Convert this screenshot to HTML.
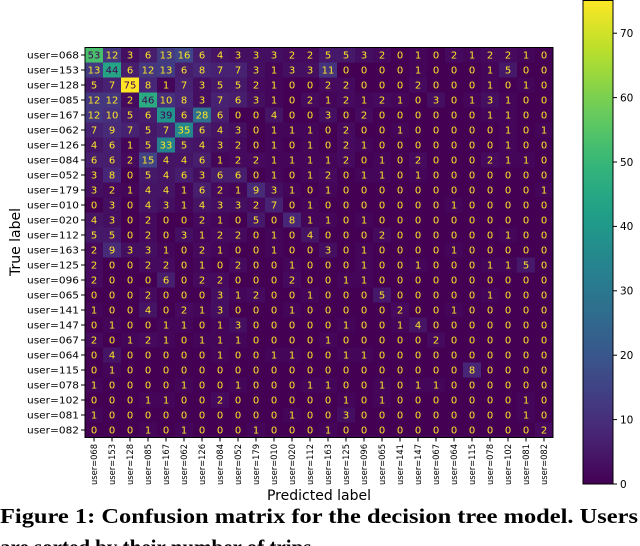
<!DOCTYPE html>
<html><head><meta charset="utf-8"><style>
html,body{margin:0;padding:0;background:#fff;width:640px;height:546px;overflow:hidden}
svg{display:block}
</style></head><body>
<svg id="chart" width="640" height="546" viewBox="0 0 640 546" xmlns="http://www.w3.org/2000/svg" font-family="'DejaVu Sans', 'Liberation Sans', sans-serif">
<g id="cells"></g>
<g id="ylabels"></g>
<g id="xlabels"></g>
<rect x="85" y="47.5" width="468" height="390" fill="none" stroke="#000" stroke-width="1"/>
<text transform="translate(20,242) rotate(-90)" text-anchor="middle" font-size="14">True label</text>
<text x="319" y="500" text-anchor="middle" font-size="14">Predicted label</text>
<defs><linearGradient id="vg" x1="0" y1="1" x2="0" y2="0"></linearGradient></defs>
<rect x="583" y="0.5" width="30" height="483.5" fill="url(#vg)" stroke="#000" stroke-width="1"/>
<g id="cbticks"></g>
<text x="0" y="523" font-family="'Liberation Serif', serif" font-weight="bold" font-size="21" textLength="638" lengthAdjust="spacingAndGlyphs">Figure 1: Confusion matrix for the decision tree model. Users</text>
<text x="0" y="554" font-family="'Liberation Serif', serif" font-weight="bold" font-size="21">are sorted by their number of trips.</text>
</svg>
<script>
const labels = ["068","153","128","085","167","062","126","084","052","179","010","020","112","163","125","096","065","141","147","067","064","115","078","102","081","082"];
const cbTicks = [0,10,20,30,40,50,60,70];
const vmax = 75;
const m068 = [53,12,3,6,13,16,6,4,3,3,3,2,2,5,5,3,2,0,1,0,2,1,2,2,1,0];
const m153 = [13,44,6,12,13,6,8,7,7,3,1,3,3,11,0,0,0,0,1,0,0,0,1,5,0,0];
const m128 = [5,7,75,8,1,7,3,5,5,2,1,0,0,2,2,0,0,0,2,0,0,0,1,0,1,0];
const m085 = [12,12,2,46,10,8,3,7,6,3,1,0,2,1,2,1,2,1,0,3,0,1,3,1,0,0];
const m167 = [12,10,5,6,39,6,28,6,0,0,4,0,0,3,0,2,0,0,0,0,0,0,1,1,0,0];
const m062 = [7,9,7,5,7,35,6,4,3,0,1,1,1,0,2,0,0,1,0,0,0,0,0,1,0,1];
const m126 = [4,6,1,5,33,5,4,3,2,0,1,0,1,0,2,1,0,0,0,0,0,0,0,1,0,0];
const m084 = [6,6,2,15,4,4,6,1,2,2,1,1,1,1,2,0,1,0,2,0,0,0,2,1,1,0];
const m052 = [3,8,0,5,4,6,3,6,6,0,1,0,1,2,0,1,1,0,1,0,0,0,0,0,0,0];
const m179 = [3,2,1,4,4,1,6,2,1,9,3,1,0,1,0,0,0,0,0,0,0,0,0,0,0,1];
const m010 = [0,3,0,4,3,1,4,3,3,2,7,0,1,0,0,0,0,0,0,0,1,0,0,0,0,0];
const m020 = [4,3,0,2,0,0,2,1,0,5,0,8,1,1,0,1,0,0,0,0,0,0,0,0,0,0];
const m112 = [5,5,0,2,0,3,1,2,2,0,1,0,4,0,0,0,2,0,0,0,0,0,0,1,0,0];
const m163 = [2,9,3,3,1,0,2,1,0,0,1,0,0,3,0,1,0,0,0,0,1,0,0,0,0,0];
const m125 = [2,0,0,2,2,0,1,0,2,0,0,1,0,0,0,1,0,0,1,0,0,0,1,1,5,0];
const m096 = [2,0,0,0,6,0,2,2,0,0,0,2,0,0,1,1,0,0,0,0,0,0,0,0,0,0];
const m065 = [0,0,0,2,0,0,0,3,1,2,0,0,1,0,0,0,5,0,0,0,0,0,1,0,0,0];
const m141 = [1,0,0,4,0,2,1,3,0,0,0,1,0,0,0,0,0,2,0,0,1,0,0,0,0,0];
const m147 = [0,1,0,0,1,1,0,1,3,0,0,0,0,0,1,0,0,1,4,0,0,0,0,0,0,0];
const m067 = [2,0,1,2,1,0,1,1,1,0,0,0,0,1,0,0,0,0,0,2,0,0,0,0,0,0];
const m064 = [0,4,0,0,0,0,0,1,0,0,1,1,0,0,1,1,0,0,0,0,0,0,0,0,0,0];
const m115 = [0,1,0,0,0,0,0,0,0,0,0,0,0,0,0,0,0,0,0,0,0,8,0,0,0,0];
const m078 = [1,0,0,0,0,1,0,0,1,0,0,0,1,1,0,0,1,0,1,1,0,0,0,0,0,0];
const m102 = [0,0,0,1,1,0,0,2,0,0,0,0,0,0,1,0,1,0,0,0,0,0,0,0,1,0];
const m081 = [1,0,0,0,0,0,0,0,0,0,0,1,0,0,3,0,0,0,0,0,0,0,0,0,1,0];
const m082 = [0,0,0,1,0,1,0,0,0,1,0,0,0,1,0,0,0,0,0,0,0,0,0,0,0,2];
const matrix = [m068,m153,m128,m085,m167,m062,m126,m084,m052,m179,m010,m020,m112,m163,m125,m096,m065,m141,m147,m067,m064,m115,m078,m102,m081,m082];

const NS = "http://www.w3.org/2000/svg";
const X0 = 85, Y0 = 47.5, CW = 18, CH = 15;
const xPos = i => X0 + i * CW;
const yPos = i => Y0 + i * CH;
const cbY = v => 484 - v * (483 / vmax);
const VS = [[68,1,84],[72,40,120],[62,74,137],[49,104,142],[38,130,142],[31,158,137],[53,183,121],[109,205,89],[180,222,44],[253,231,37]];
function viridis(t){
  t = Math.max(0, Math.min(1, t));
  const p = t * (VS.length - 1), i = Math.min(Math.floor(p), VS.length - 2), f = p - i;
  const c = VS[i].map((a, k) => Math.round(a + (VS[i + 1][k] - a) * f));
  return `rgb(${c[0]},${c[1]},${c[2]})`;
}
function mk(tag, attrs){ const e = document.createElementNS(NS, tag); for (const k in attrs) e.setAttribute(k, attrs[k]); return e; }

const cells = document.getElementById('cells');
matrix.forEach((row, r) => {
  row.forEach((v, c) => {
    const rect = mk('rect', {x: xPos(c), y: yPos(r), width: CW + 0.3, height: CH + 0.3, fill: viridis(v / vmax)});
    
    
    cells.appendChild(rect);
    const t = mk('text', {x: xPos(c) + CW / 2, y: yPos(r) + CH / 2 + 3.6, 'text-anchor': 'middle', 'font-size': 10, fill: v > vmax / 2 ? '#440154' : '#fde725'});
    t.textContent = v;
    
    
    cells.appendChild(t);
  });
});
const yl = document.getElementById('ylabels');
labels.forEach((l, i) => {
  const y = yPos(i) + CH / 2;
  const tk = mk('line', {x1: 81, x2: 85, y1: y, y2: y, stroke: '#000'});
  
  
  yl.appendChild(tk);
  const t = mk('text', {x: 79, y: y + 3.6, 'text-anchor': 'end', 'font-size': 10, textLength: 52, lengthAdjust: 'spacingAndGlyphs'});
  t.textContent = 'user=' + l;
  
  
  yl.appendChild(t);
});
const xl = document.getElementById('xlabels');
labels.forEach((l, i) => {
  const x = xPos(i) + CW / 2;
  const tk = mk('line', {x1: x, x2: x, y1: 437.5, y2: 441.5, stroke: '#000'});
  
  
  xl.appendChild(tk);
  const t = mk('text', {transform: `translate(${x + 3.2},444) rotate(-90)`, 'text-anchor': 'end', 'font-size': 9, textLength: 41, lengthAdjust: 'spacingAndGlyphs'});
  t.textContent = 'user=' + l;
  
  
  xl.appendChild(t);
});
const g = document.getElementById('vg');
for (let i = 0; i <= 20; i++) {
  const s = mk('stop', {offset: (i / 20), 'stop-color': viridis(i / 20)});
  g.appendChild(s);
}
const cb = document.getElementById('cbticks');
cbTicks.forEach(v => {
  const y = cbY(v);
  const tk = mk('line', {x1: 613, x2: 617, y1: y, y2: y, stroke: '#000'});
  
  
  cb.appendChild(tk);
  const t = mk('text', {x: 620, y: y + 3.8, 'font-size': 10.5});
  t.textContent = v;
  
  
  cb.appendChild(t);
});
</script>
</body></html>
